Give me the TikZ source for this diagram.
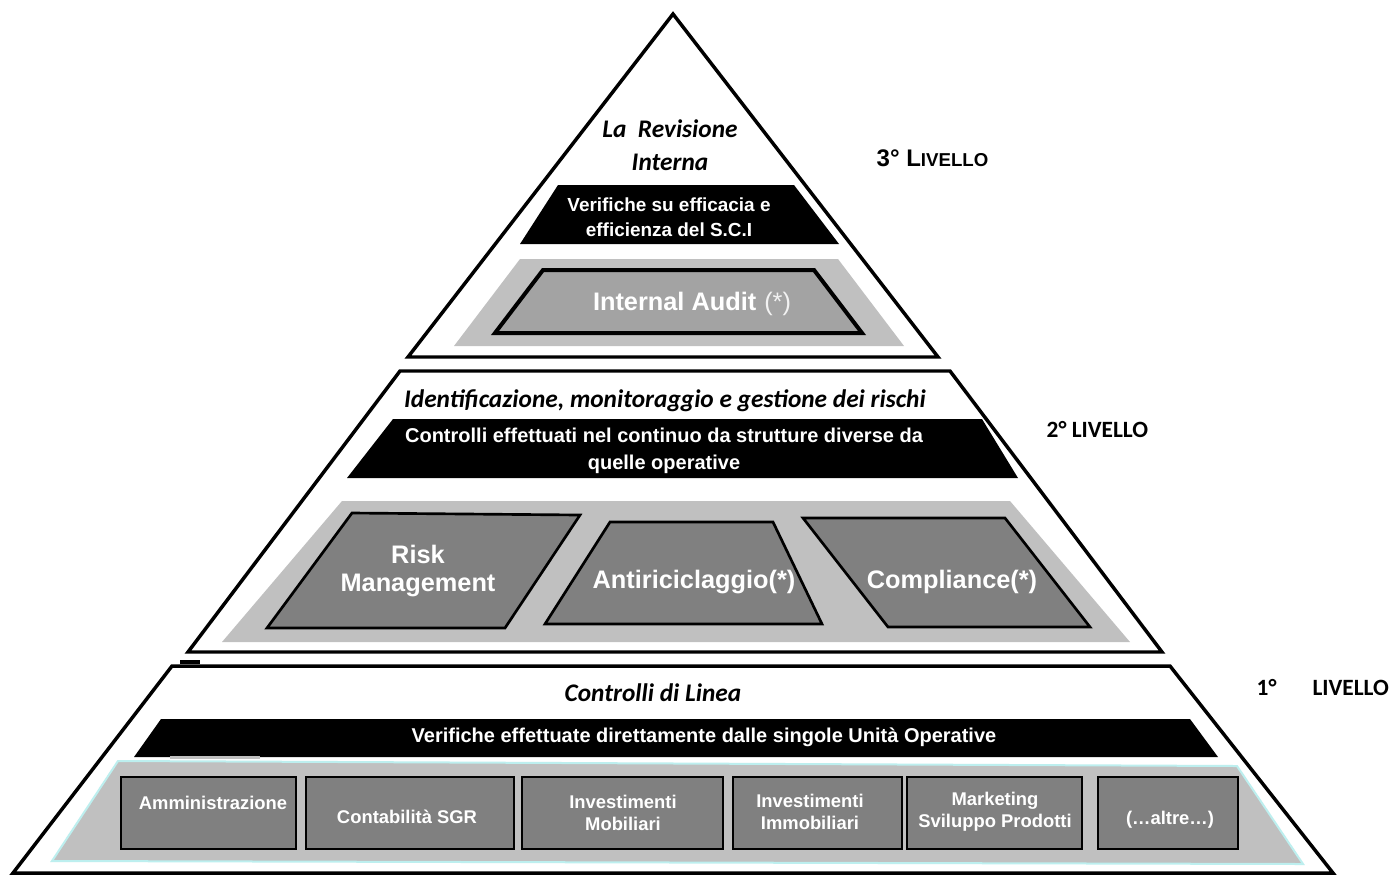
\documentclass[tikz,border=0pt]{standalone}
\usepackage{fontspec}
\setmainfont{Liberation Sans}
\newfontfamily\calibrifont{Carlito}
\definecolor{shelfgray}{HTML}{C0C0C0}
\definecolor{unitgray}{HTML}{808080}
\definecolor{auditgray}{HTML}{A3A3A3}
\definecolor{edgecyan}{HTML}{BDEFEF}

\begin{document}
\begin{tikzpicture}[x=0.75pt,y=-0.75pt,line join=miter]
  \tikzstyle{outline}=[draw=black,line width=2.6pt,fill=white]
  \tikzstyle{band}=[fill=black]
  \tikzstyle{shelf}=[fill=shelfgray]
  \tikzstyle{unit}=[draw=black,line width=2pt,fill=unitgray]
  \tikzstyle{title}=[font=\calibrifont\bfseries\itshape\fontsize{19}{25}\selectfont,align=center]
  \tikzstyle{bandtext}=[text=white,font=\bfseries\fontsize{14.2}{19}\selectfont,align=center]
  \tikzstyle{unittext}=[text=white,font=\bfseries\fontsize{19}{21}\selectfont,align=center]
  \tikzstyle{smalltext}=[text=white,font=\bfseries\fontsize{13.8}{16.5}\selectfont,align=center]
  \tikzstyle{level}=[font=\calibrifont\bfseries\fontsize{17.5}{19}\selectfont,anchor=west]

  \useasboundingbox (0,0) rectangle (1391,876);

  % 3rd level
  \draw[outline] (673,14) -- (938,357) -- (408,357) -- cycle;
  \node[title] (revisione) at (670,145) {La\ \ Revisione\\Interna};
  \fill[band] (558,185) -- (794,185) -- (839,244) -- (520,244) -- cycle;
  \node[bandtext] (verifiche3) at (669,217) {Verifiche su efficacia e\\efficienza del S.C.I};
  \fill[shelf] (520,259) -- (838,259) -- (904,346) -- (454,346) -- cycle;
  \draw[unit,fill=auditgray,line width=3pt] (543,270) -- (814,270) -- (862,333) -- (495,333) -- cycle;
  \node[unittext] (audit) at (692,304) {Internal Audit\hspace{6pt}{\mdseries\color{white!90!gray}(*)}};
  \node[level,font=\bfseries\fontsize{18}{20}\selectfont] (liv3) at (872,158) {3° L{\fontsize{14}{16}\selectfont IVELLO}};

  % 2nd level
  \draw[outline] (400,371) -- (950,371) -- (1162,652) -- (188,652) -- cycle;
  \node[title] (rischi) at (665,401) {Identificazione, monitoraggio e gestione dei rischi};
  \fill[band] (393,419) -- (982,419) -- (1018,478) -- (347,478) -- cycle;
  \node[bandtext,font=\bfseries\fontsize{15}{20}\selectfont] (verifiche2) at (664,451) {Controlli effettuati nel continuo da strutture diverse da\\quelle operative};
  \fill[shelf] (342,501) -- (1010,501) -- (1130,642) -- (222,642) -- cycle;
  \draw[unit] (352,513) -- (580,515) -- (505,628) -- (267,628) -- cycle;
  \node[unittext] (risk) at (418,571) {Risk\\Management};
  \draw[unit] (610,522) -- (773,522) -- (822,624) -- (545,624) -- cycle;
  \node[unittext] (anti) at (694,582) {Antiriciclaggio(*)};
  \draw[unit] (803,518) -- (1005,518) -- (1090,627) -- (888,627) -- cycle;
  \node[unittext] (compl) at (952,582) {Compliance(*)};
  \node[level] (liv2) at (1042,430) {2° LIVELLO};

  % 1st level
  \draw[outline] (172,666) -- (1170,666) -- (1333,873) -- (13,873) -- cycle;
  \draw[line width=3pt] (180,662) -- (200,662);
  \node[title] (linea) at (653,693) {Controlli di Linea};
  \fill[band] (161,719) -- (1190,719) -- (1218,757) -- (134,757) -- cycle;
  \fill[shelfgray] (170,756) rectangle (260,759);
  \node[bandtext,font=\bfseries\fontsize{15}{19}\selectfont] (verifiche1) at (704,737) {Verifiche effettuate direttamente dalle singole Unità Operative};
  \draw[shelf,draw=edgecyan,line width=1.5pt] (118,761) -- (1237,766) -- (1303,864) -- (52,861) -- cycle;
  \draw[unit] (121,777) rectangle (296,849);
  \draw[unit] (306,777) rectangle (514,849);
  \draw[unit] (522,777) rectangle (723,849);
  \draw[unit] (733,777) rectangle (902,849);
  \draw[unit] (907,777) rectangle (1082,849);
  \draw[unit] (1098,777) rectangle (1238,849);
  \node[smalltext] (amm) at (213,803) {Amministrazione};
  \node[smalltext] (contab) at (407,817) {Contabilità SGR};
  \node[smalltext] (mobil) at (623,813) {Investimenti\\Mobiliari};
  \node[smalltext] (immob) at (810,812) {Investimenti\\Immobiliari};
  \node[smalltext] (mkt) at (995,812) {Marketing\\Sviluppo Prodotti};
  \node[smalltext] (altre) at (1170,820) {(…altre…)};
  \node[level] (liv1) at (1252,688) {1°\hspace{27pt}LIVELLO};
\end{tikzpicture}
\end{document}
